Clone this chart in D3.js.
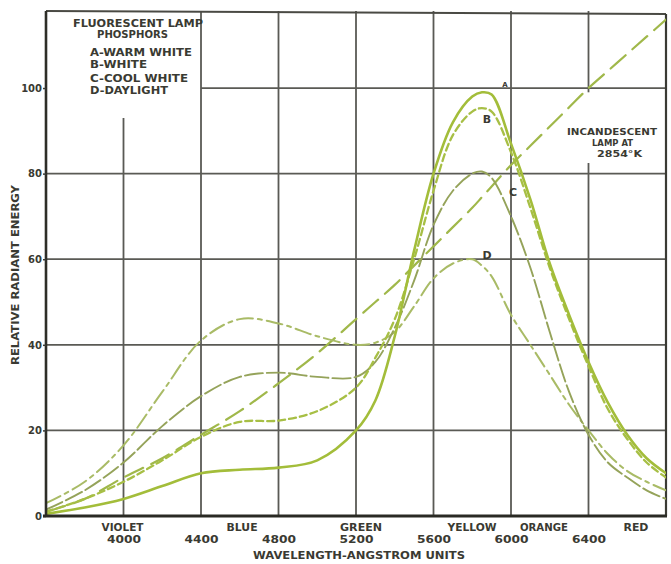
<!DOCTYPE html>
<html><head><meta charset="utf-8">
<script src="https://cdn.jsdelivr.net/npm/d3@7"></script>
<style>
html,body{margin:0;padding:0;background:#ffffff;}
svg{display:block;}
text{font-family:"DejaVu Sans",sans-serif;font-weight:bold;fill:#3a3a32;}
</style></head><body>
<svg id="c" width="671" height="564"></svg>
<script>
// ---- data ----
const wavelengths = [3600,3800,4000,4200,4400,4600,4800,5000,5200,5300,5400,5500,5600,5700,5800,5850,5900,6000,6100,6200,6300,6400,6500,6600,6700,6800];
const warmWhite   = [0.5,2,4,7,10,10.8,11.3,13,20,27,42,62,80,92,98,99,98.5,87,74,59,47,36,26.5,19,13.5,10];
const white       = [1,4,8,13,18.5,22,22.3,24.5,30,37,46,60,76,89,94.5,95.3,94.5,85,72,58,46,35,25,18,12.5,9];
const coolWhite   = [1.5,6,12.5,21,28,32.5,33.5,32.5,32.5,36,44,55,68,76,80,80.5,79,70,58,43,29,19,12.5,9,6,4];
const daylight    = [3,8,16.5,29,41,46,45,42,40,40.5,43,49,55.5,59,60,58.5,56,47,40,33,26,20,14.5,10.5,8,6];
const incandescent= [1,4,9,13.5,19,24.5,31,38,46,50,54,58.5,63,67.5,72,74.5,77,82,86.5,91,95.5,100,104,108,112,116];
const xTicks = [4000,4400,4800,5200,5600,6000,6400];
const yTicks = [0,20,40,60,80,100];
const bandNames = ["VIOLET","BLUE","GREEN","YELLOW","ORANGE","RED"];
const bandCenters = [3995,4612,5226,5799,6170,6645];
const legendLines = ["A-WARM WHITE","B-WHITE","C-COOL WHITE","D-DAYLIGHT"];

const svg = d3.select("#c");
const x = d3.scaleLinear().domain([3600,6800]).range([46,666]);
const y = d3.scaleLinear().domain([0,118]).range([516,11]);

// clip
svg.append("clipPath").attr("id","plot").append("rect")
  .attr("x",x(3600)).attr("y",y(118)).attr("width",x(6800)-x(3600)).attr("height",y(0)-y(118));

// grid
const grid = svg.append("g").attr("stroke","#5a5a55").attr("stroke-width",1.8);
xTicks.forEach(v=>{
  if (v===4000) {
    grid.append("line").attr("x1",x(v)).attr("x2",x(v)).attr("y1",y(93)).attr("y2",y(0));
  } else if (v===6400) {
    grid.append("line").attr("x1",x(v)).attr("x2",x(v)).attr("y1",y(118)).attr("y2",y(99));
    grid.append("line").attr("x1",x(v)).attr("x2",x(v)).attr("y1",y(82.5)).attr("y2",y(0));
  } else {
    grid.append("line").attr("x1",x(v)).attr("x2",x(v)).attr("y1",y(118)).attr("y2",y(0));
  }
});
yTicks.filter(v=>v>0).forEach(v=>{
  const x0 = v===100 ? x(4400) : x(3600);
  grid.append("line").attr("x1",x0).attr("x2",x(6800)).attr("y1",y(v)).attr("y2",y(v));
});
// frame
svg.append("line").attr("x1",x(3600)).attr("x2",x(6800)).attr("y1",y(118)).attr("y2",y(118)+3)
  .attr("stroke","#4a4a44").attr("stroke-width",1.8);
svg.append("line").attr("x1",x(6800)).attr("x2",x(6800)).attr("y1",y(118)+3).attr("y2",y(0))
  .attr("stroke","#3a3a34").attr("stroke-width",2.2);

// curves
const line = d3.line().x(d=>x(d[0])).y(d=>y(d[1])).curve(d3.curveCatmullRom.alpha(0.5));
const series = [
  {v:incandescent, color:"#a0b84a", w:2.2, dash:"20,9"},
  {v:daylight,     color:"#a9bb66", w:2.0, dash:"16,5,4,5"},
  {v:coolWhite,    color:"#95a35a", w:1.9, dash:"18,4"},
  {v:white,        color:"#a7bf45", w:2.3, dash:"7,4"},
  {v:warmWhite,    color:"#a3bd3a", w:2.6, dash:null}
];
const cg = svg.append("g").attr("clip-path","url(#plot)");
series.forEach(s=>{
  cg.append("path").datum(wavelengths.map((w,i)=>[w,s.v[i]]))
    .attr("d",line).attr("fill","none").attr("stroke",s.color)
    .attr("stroke-width",s.w).attr("stroke-dasharray",s.dash)
    .attr("stroke-linecap","round");
});

// axes
const yAxis = svg.append("g").attr("transform",`translate(${x(3600)},0)`)
  .call(d3.axisLeft(y).tickValues(yTicks).tickSize(3).tickPadding(1).tickFormat(d3.format("d")));
yAxis.select(".domain").attr("d",`M0,${y(118)}V${y(0)}`).attr("stroke","#2e2e28").attr("stroke-width",2.6);
yAxis.selectAll(".tick line").attr("stroke","#3a3a34").attr("stroke-width",1.5);
yAxis.selectAll(".tick text").style("font-family","DejaVu Sans").style("font-weight","bold")
  .style("font-size","10px").attr("fill","#3f3f37");

const xAxis = svg.append("g").attr("transform",`translate(0,${y(0)})`)
  .call(d3.axisBottom(x).tickValues(xTicks).tickSize(0).tickPadding(19).tickFormat(d3.format("d")));
xAxis.select(".domain").attr("d",`M${x(3600)-3},0H${x(6800)+1}`).attr("stroke","#2a2a24").attr("stroke-width",3.2);
xAxis.selectAll(".tick text").style("font-family","DejaVu Sans").style("font-weight","bold")
  .style("font-size","11px").attr("fill","#34342e").attr("textLength",34).attr("lengthAdjust","spacingAndGlyphs");

// band names
const bw = {"VIOLET":42,"BLUE":31,"GREEN":42,"YELLOW":49,"ORANGE":48,"RED":25};
svg.append("g").selectAll("text").data(bandNames).join("text")
  .attr("x",(d,i)=>x(bandCenters[i])).attr("y",531).attr("text-anchor","middle")
  .attr("font-size","10px").attr("textLength",d=>bw[d]).attr("lengthAdjust","spacingAndGlyphs")
  .attr("fill","#55554d").text(d=>d);

// axis titles
svg.append("text").attr("x",253).attr("y",559).attr("font-size","11px")
  .attr("textLength",212).attr("lengthAdjust","spacingAndGlyphs").text("WAVELENGTH-ANGSTROM UNITS");
svg.append("text").attr("transform","translate(19,275) rotate(-90)").attr("text-anchor","middle")
  .attr("font-size","10px").attr("textLength",180).attr("lengthAdjust","spacingAndGlyphs")
  .text("RELATIVE RADIANT ENERGY");

// legend block
svg.append("text").attr("x",73).attr("y",27).attr("font-size","10.5px").attr("textLength",130)
  .attr("lengthAdjust","spacingAndGlyphs").text("FLUORESCENT LAMP");
svg.append("text").attr("x",97).attr("y",37.5).attr("font-size","10.5px").attr("textLength",71)
  .attr("lengthAdjust","spacingAndGlyphs").text("PHOSPHORS");
const lw = [102,57,98,78], lyb = [56,67.5,82,94];
svg.append("g").selectAll("text").data(legendLines).join("text")
  .attr("x",90).attr("y",(d,i)=>lyb[i]).attr("font-size","10.5px")
  .attr("textLength",(d,i)=>lw[i]).attr("lengthAdjust","spacingAndGlyphs").text(d=>d);

// incandescent note
[["INCANDESCENT",567,135,90],["LAMP AT",592,146,41],["2854°K",597,157,45]].forEach(t=>{
  svg.append("text").attr("x",t[1]).attr("y",t[2]).attr("font-size","9.5px")
    .attr("textLength",t[3]).attr("lengthAdjust","spacingAndGlyphs").text(t[0]);
});

// curve letters
svg.append("text").attr("x",505).attr("y",87).attr("text-anchor","middle").attr("font-size","7px").attr("fill","#55554d").text("A");
svg.append("text").attr("x",487).attr("y",123).attr("text-anchor","middle").attr("font-size","11px").attr("fill","#6e7d2c").text("B");
svg.append("text").attr("x",513).attr("y",196).attr("text-anchor","middle").attr("font-size","11px").attr("fill","#4a4a40").text("C");
svg.append("text").attr("x",487).attr("y",259).attr("text-anchor","middle").attr("font-size","11px").attr("fill","#4a4a40").text("D");
</script>
</body></html>
